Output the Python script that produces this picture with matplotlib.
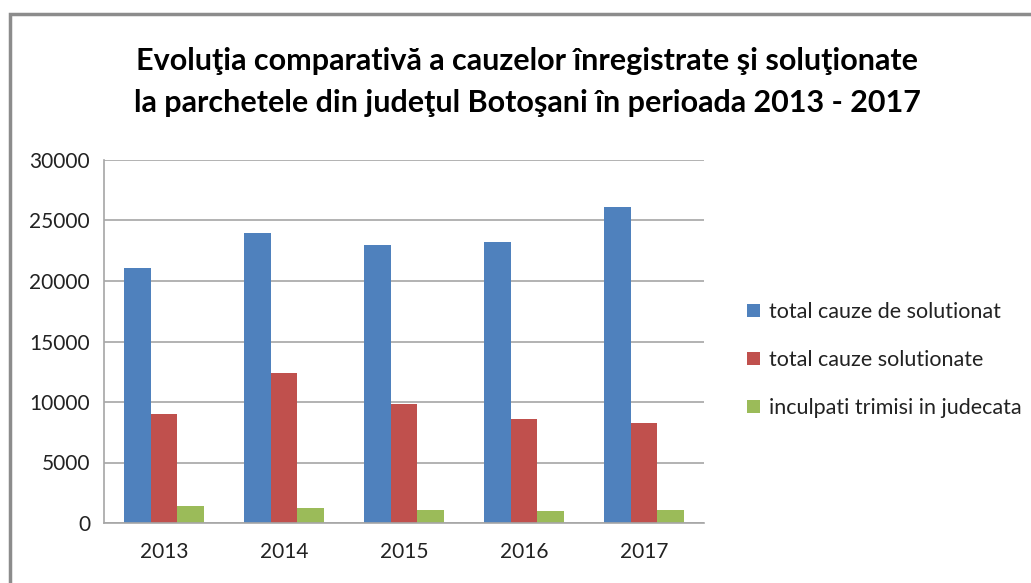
import matplotlib.pyplot as plt
import numpy as np
from matplotlib.patches import Rectangle

plt.rcParams['font.family'] = ['Lato', 'DejaVu Sans']

years = ['2013', '2014', '2015', '2016', '2017']
de_solutionat = [21050, 23930, 22970, 23190, 26130]
solutionate = [9040, 12420, 9860, 8630, 8300]
trimisi = [1400, 1210, 1100, 990, 1100]

series_names = ['total cauze de solutionat', 'total cauze solutionate',
                'inculpati trimisi in judecata']
colors = ['#4F81BD', '#C0504D', '#9BBB59']

fig = plt.figure(figsize=(10.31, 5.83), dpi=100)
W, H = 1031, 583

# chart border (cropped at right and bottom like the reference)
fig.patches.append(Rectangle((10 / W, -0.05), 1.1, 1 - 14 / H + 0.05,
                             transform=fig.transFigure, fill=False,
                             edgecolor='#8c8c8c', linewidth=2.5))

ax = fig.add_axes([104 / W, 1 - 523 / H, 600 / W, 363 / H])

x = np.arange(len(years))
bw = 2 / 9
for i, (vals, name, c) in enumerate(zip([de_solutionat, solutionate, trimisi],
                                        series_names, colors)):
    ax.bar(x + (i - 1) * bw, vals, width=bw, color=c, label=name, zorder=2)

ax.set_xlim(-0.5, 4.5)
ax.set_ylim(0, 30000)
ax.set_yticks(range(0, 30001, 5000))
ax.set_xticks(x)
ax.set_xticklabels(years)
ax.tick_params(length=0, labelsize=15, colors='#222222')
ax.tick_params(axis='x', pad=14)
ax.tick_params(axis='y', pad=10)
ax.grid(axis='y', color='#a6a6a6', linewidth=1.2, zorder=0)
for s in ['top', 'right']:
    ax.spines[s].set_visible(False)
for s in ['left', 'bottom']:
    ax.spines[s].set_color('#a6a6a6')
    ax.spines[s].set_linewidth(1.2)

fig.text(527 / W, 1 - 82 / H,
         'Evoluţia comparativă a cauzelor înregistrate şi soluţionate\n'
         'la parchetele din judeţul Botoşani în perioada 2013 - 2017',
         ha='center', va='center', fontsize=22, fontweight='bold',
         linespacing=1.65)

leg = fig.legend(loc='center left', bbox_to_anchor=(728 / W, 1 - 360 / H),
                 frameon=False, fontsize=15.5, handlelength=0.6, handleheight=0.6,
                 handletextpad=0.4, labelspacing=1.3)
for t in leg.get_texts():
    t.set_color('#222222')

fig.savefig('out.png', dpi=100)
